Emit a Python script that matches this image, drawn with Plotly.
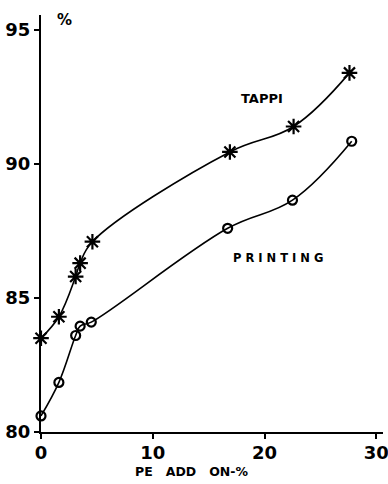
import plotly.graph_objects as go

tappi_x = [0, 1.6, 3.1, 3.5, 4.6, 16.9, 22.6, 27.6]
tappi_y = [83.5, 84.3, 85.8, 86.3, 87.1, 90.45, 91.4, 93.4]
print_x = [0, 1.6, 3.1, 3.5, 4.5, 16.7, 22.5, 27.8]
print_y = [80.6, 81.85, 83.6, 83.95, 84.1, 87.6, 88.65, 90.85]
x_ticks = [0, 10, 20, 30]
y_ticks = [80, 85, 90, 95]

FONT = "DejaVu Sans"

fig = go.Figure()
fig.add_trace(go.Scatter(
    x=tappi_x, y=tappi_y, mode="lines+markers",
    line=dict(color="black", width=1.6, shape="spline", smoothing=1.1),
    marker=dict(symbol="asterisk-open", size=13, color="black",
                line=dict(color="black", width=2.2)),
    showlegend=False, cliponaxis=False, hoverinfo="skip"))
fig.add_trace(go.Scatter(
    x=print_x, y=print_y, mode="lines+markers",
    line=dict(color="black", width=1.6, shape="spline", smoothing=1.1),
    marker=dict(symbol="circle-open", size=9, color="black",
                line=dict(color="black", width=2.2)),
    showlegend=False, cliponaxis=False, hoverinfo="skip"))

fig.update_layout(
    width=388, height=484,
    margin=dict(l=41, r=5, t=15, b=52, autoexpand=False),
    paper_bgcolor="white", plot_bgcolor="white",
    font=dict(family=FONT, color="black"),
    xaxis=dict(range=[0, 30.6], tickvals=x_ticks, showgrid=False, zeroline=False,
               automargin=False, ticklabeloverflow="allow", ticklabelstandoff=-2,
               showline=True, linecolor="black", linewidth=2,
               ticks="outside", ticklen=5, tickwidth=2, tickcolor="black",
               tickfont=dict(size=18, family=FONT, weight="bold")),
    yaxis=dict(range=[80, 95.56], tickvals=y_ticks, showgrid=False, zeroline=False,
               automargin=False, ticklabeloverflow="allow",
               showline=True, linecolor="black", linewidth=2,
               ticks="outside", ticklen=5, tickwidth=2, tickcolor="black",
               tickfont=dict(size=18, family=FONT, weight="bold")),
    annotations=[
        dict(x=1.25, y=95.37, xref="x", yref="y", text="%", showarrow=False,
             font=dict(size=15, family=FONT, weight="bold"), xanchor="left", yanchor="middle"),
        dict(x=19.8, y=92.46, xref="x", yref="y", text="TAPPI", showarrow=False,
             font=dict(size=13, family=FONT, weight="bold"), xanchor="center", yanchor="middle"),
        dict(x=21.2, y=86.5, xref="x", yref="y", text="P R I N T I N G", showarrow=False,
             font=dict(size=11.5, family=FONT, weight="bold"), xanchor="center", yanchor="middle"),
        dict(x=13.5, y=-0.094, xref="x", yref="paper", text="PE   ADD   ON-%", showarrow=False,
             font=dict(size=12.5, family=FONT, weight="bold"), xanchor="center", yanchor="middle"),
    ],
)

fig.write_html("out.html", config={"displayModeBar": False},
               post_script="document.body.style.margin='0';document.body.style.overflow='hidden';")
